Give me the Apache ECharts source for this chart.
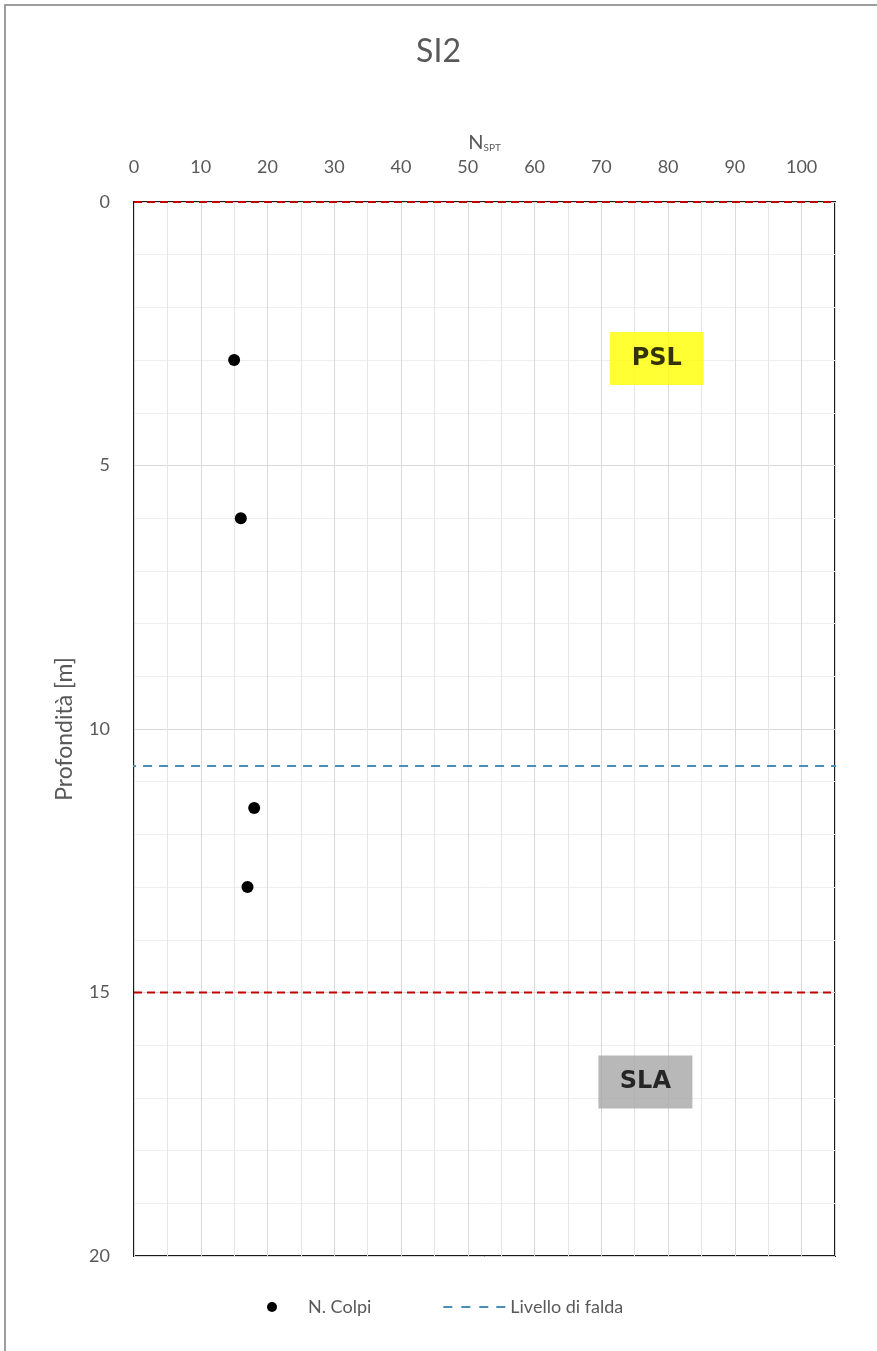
<!DOCTYPE html>
<html>
<head>
<meta charset="utf-8">
<script src="https://cdn.jsdelivr.net/npm/echarts@6/dist/echarts.min.js"></script>
<style>html,body{margin:0;padding:0;background:#fff;}#c{width:877px;height:1351px;}</style>
</head>
<body>
<div id="c"></div>
<script>
// Data
const title = 'SI2';
const xTicks = [0, 10, 20, 30, 40, 50, 60, 70, 80, 90, 100];
const yTicks = [0, 5, 10, 15, 20];
const colpiNspt = [15, 16, 18, 17];
const colpiDepth = [3, 6, 11.5, 13];
const faldaDepth = 10.7;
const faldaX = [-25, 130];
const limitDepths = [0, 15];
const limitX = [0, 105];
const layerNames = ['PSL', 'SLA'];
const layerX = [78.3, 76.6];
const layerDepth = [2.97, 16.7];

const font = 'Lato';
const grey = '#595959';
const chart = echarts.init(document.getElementById('c'));

const colpiData = colpiNspt.map((v, i) => [v, colpiDepth[i]]);
const faldaData = faldaX.map(x => [x, faldaDepth]);
const layerColors = ['#FFFF00', '#A6A6A6'];

const series = [
  {
    name: 'N. Colpi', type: 'scatter', data: colpiData, symbol: 'circle', symbolSize: 12,
    itemStyle: { color: '#000', opacity: 1 }, z: 5
  },
  {
    name: 'Livello di falda', type: 'line', data: faldaData, symbol: 'none', clip: false,
    lineStyle: { color: '#4A8DB8', width: 2, type: [9, 7] }, itemStyle: { color: '#4A8DB8' }, z: 4
  }
];
limitDepths.forEach((d, k) => {
  series.push({
    name: 'lim' + k, type: 'line', data: limitX.map(x => [x, d]), symbol: 'none', clip: false,
    lineStyle: { color: '#C00000', width: 2, type: [8, 5] }, silent: true, z: 4
  });
});
series.push({
  name: 'layers', type: 'scatter', symbolSize: 0, silent: true, z: 6,
  data: layerNames.map((n, i) => ({
    value: [layerX[i], layerDepth[i]],
    label: {
      show: true, position: 'inside', formatter: n, fontFamily: 'DejaVu Sans', fontWeight: 'bold',
      fontSize: 24, color: '#000', backgroundColor: layerColors[i],
      width: 94, height: 53, lineHeight: 53, align: 'center', verticalAlign: 'middle'
    }
  }))
});

chart.setOption({
  animation: false,
  backgroundColor: '#fff',
  title: {
    text: title, left: 'center', top: 31,
    textStyle: { fontFamily: font, fontSize: 32, fontWeight: 'normal', color: grey }
  },
  graphic: [{
    type: 'rect', shape: { x: 5, y: 5, width: 900, height: 1400 },
    style: { fill: 'none', stroke: '#7f7f7f', lineWidth: 1.5 }, silent: true, z: -10
  }],
  legend: {
    bottom: 30, left: 262, itemGap: 72, itemWidth: 62, itemHeight: 10,
    textStyle: { fontFamily: font, fontSize: 18, color: grey },
    data: [
      { name: 'N. Colpi', icon: 'circle', itemStyle: { color: '#000' } },
      { name: 'Livello di falda',
        icon: 'path://M0,0h9v2h-9z M18,0h9v2h-9z M36,0h9v2h-9z M53,0h9v2h-9z',
        itemStyle: { color: '#4A8DB8' } }
    ]
  },
  grid: {
    left: 134, right: 42, top: 202, bottom: 95, show: true,
    borderColor: '#1a1a1a', borderWidth: 2, backgroundColor: 'transparent'
  },
  xAxis: {
    type: 'value', position: 'top', min: 0, max: 105, interval: 10,
    name: '{n|N}{s|SPT}', nameLocation: 'middle', nameGap: 40,
    nameTextStyle: {
      rich: {
        n: { fontFamily: font, fontSize: 20, color: grey },
        s: { fontFamily: font, fontSize: 10, color: grey, verticalAlign: 'bottom', padding: [12, 0, 0, 0] }
      }
    },
    axisLine: { show: false }, axisTick: { show: false },
    axisLabel: { fontFamily: font, fontSize: 18, color: grey, margin: 26,
      formatter: v => xTicks.includes(v) ? String(v) : '' },
    splitLine: { show: true, lineStyle: { color: '#d9d9d9', width: 1 } },
    minorTick: { show: false, splitNumber: 2 },
    minorSplitLine: { show: true, lineStyle: { color: '#e6e6e6', width: 1 } }
  },
  yAxis: {
    type: 'value', inverse: true, min: 0, max: 20, interval: 5,
    name: 'Profondità [m]', nameLocation: 'middle', nameGap: 58,
    nameTextStyle: { fontFamily: font, fontSize: 23, color: grey },
    axisLine: { show: false }, axisTick: { show: false },
    axisLabel: { fontFamily: font, fontSize: 18, color: grey, margin: 24,
      formatter: v => yTicks.includes(v) ? String(v) : '' },
    splitLine: { show: true, lineStyle: { color: '#d9d9d9', width: 1 } },
    minorTick: { show: false, splitNumber: 5 },
    minorSplitLine: { show: true, lineStyle: { color: '#eeeeee', width: 1 } }
  },
  series: series
});
</script>
</body>
</html>
